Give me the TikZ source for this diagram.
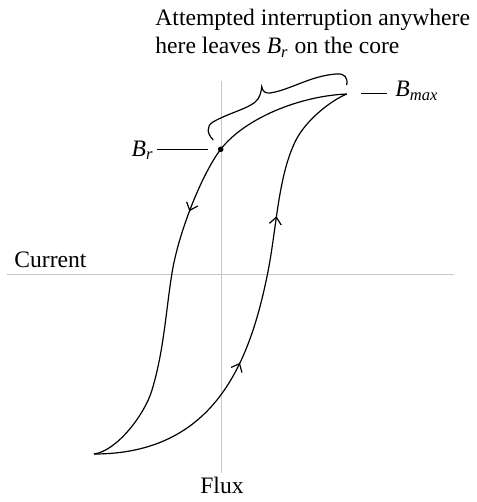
\documentclass[tikz,border=0pt]{standalone}
\usepackage{fontspec}
\setmainfont{Liberation Serif}
\usetikzlibrary{arrows.meta, decorations.markings}

\tikzset{
  loopline/.style={line width=0.6pt},
  axisline/.style={line width=0.5pt, draw=gray!45},
  tickline/.style={line width=0.5pt},
  flowmark/.style={postaction={decorate}, decoration={markings,
      mark=at position #1 with {\arrow{Straight Barb[length=3.5pt,width=6pt,line width=0.6pt]}}}}
}

\begin{document}
\begin{tikzpicture}[x=0.5pt, y=-0.5pt, font=\fontsize{11.8}{14}\selectfont]
  \useasboundingbox (0,0) rectangle (476,502);

  % === AXES ===
  \coordinate (cleft) at (7,274);
  \coordinate (cright) at (454,274);
  \coordinate (ftop) at (221,81);
  \coordinate (fbottom) at (221,473);
  \draw[axisline] (cleft) -- (cright);
  \draw[axisline] (ftop) -- (fbottom);
  \node[anchor=base west, inner sep=0] (current) at (14,267) {Current};
  \node[anchor=base, inner sep=0] (flux) at (222,493) {Flux};

  % === LOOP POINTS ===
  \coordinate (bmax) at (346.7,94);
  \coordinate (br) at (220.7,149.3);
  \coordinate (bmin) at (94,454);
  \coordinate (dn1) at (172,273);
  \coordinate (dn2) at (152,390);
  \coordinate (up2) at (267.7,273);
  \coordinate (up3) at (296,140);

  % falling branch
  \draw[loopline] (bmax) .. controls (300,96) and (245,118) .. (br);
  \draw[loopline, flowmark=0.52] (br) .. controls (201.7,174.3) and (178.4,233) .. (dn1);
  \draw[loopline] (dn1) .. controls (165.6,313) and (164,350) .. (dn2);
  \draw[loopline] (dn2) .. controls (145,414) and (117,451) .. (bmin);

  % rising branch
  \draw[loopline, flowmark=0.66] (bmin) .. controls (214,454) and (249.7,363) .. (up2);
  \draw[loopline, flowmark=0.42] (up2) .. controls (276.7,228) and (278,175.6) .. (up3);
  \draw[loopline] (up3) .. controls (306,120.4) and (330,101) .. (bmax);

  \fill (br) circle (1.4pt);

  % === LABELS ===
  \node[anchor=base east, inner sep=0] (brlab) at (154,156)
    {\textit{B}\textsubscript{\textit{r}}};
  \coordinate (brtickA) at (157,150);
  \coordinate (brtickB) at (208,150);
  \draw[tickline] (brtickA) -- (brtickB);

  \node[anchor=base west, inner sep=0] (bmaxlab) at (395,97)
    {\textit{B}\textsubscript{\textit{max}}};
  \coordinate (bmaxtickA) at (361,94);
  \coordinate (bmaxtickB) at (387,94);
  \draw[tickline] (bmaxtickA) -- (bmaxtickB);

  % brace over the upper branch
  \draw[loopline] (213.3,140) .. controls (207,134) and (206,126) .. (213,122)
    .. controls (228,113) and (252,108) .. (258,99)
    .. controls (260.5,95) and (261.5,90) .. (261.7,86.7)
    .. controls (262.5,91) and (265,93.5) .. (270,93)
    .. controls (290,90) and (310,76) .. (336,74)
    .. controls (345,73) and (348,78) .. (346.7,85);

  \node[anchor=base west, inner sep=0] (note1) at (155,26) {Attempted interruption anywhere};
  \node[anchor=base west, inner sep=0] (note2) at (155,54)
    {here leaves \textit{B}\textsubscript{\textit{r}} on the core};
\end{tikzpicture}
\end{document}
